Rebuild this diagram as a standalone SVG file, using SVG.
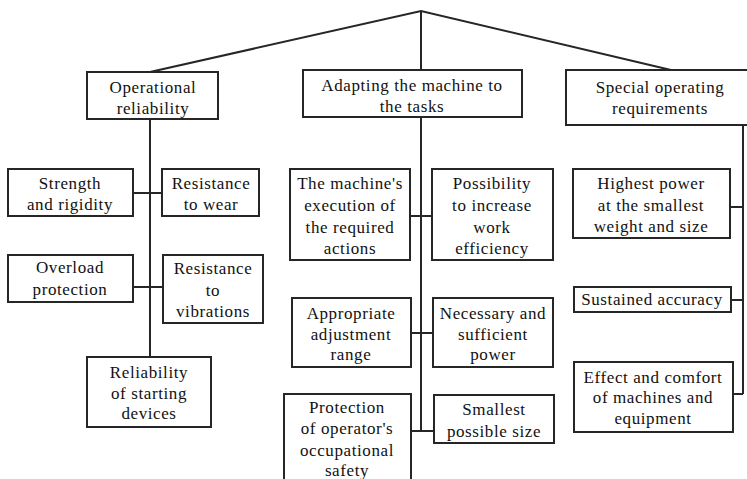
<svg xmlns="http://www.w3.org/2000/svg" width="747" height="479" viewBox="0 0 747 479">
<style>
rect{fill:#fff;stroke:#262626;stroke-width:2}
.c line,.c polyline{stroke:#262626;stroke-width:2;fill:none}
text{font-family:'Liberation Serif','Times New Roman',serif;font-size:17px;fill:#111;text-anchor:middle;dominant-baseline:central;letter-spacing:0.6px}
</style>
<rect x="0" y="0" width="747" height="479" style="fill:#fff;stroke:none"/>
<g class="c">
<polyline points="150,72 421,11 671,70"/>
<line x1="421" y1="11" x2="421" y2="71"/>
<line x1="150" y1="119" x2="150" y2="357"/>
<line x1="133" y1="193" x2="162" y2="193"/>
<line x1="133" y1="287" x2="163" y2="287"/>
<line x1="421" y1="117" x2="421" y2="431"/>
<line x1="410" y1="216" x2="432" y2="216"/>
<line x1="411" y1="333" x2="433" y2="333"/>
<line x1="411" y1="431" x2="434" y2="431"/>
<line x1="743" y1="125" x2="743" y2="394"/>
<line x1="730" y1="207" x2="743" y2="207"/>
<line x1="731" y1="300" x2="743" y2="300"/>
<line x1="733" y1="394" x2="743" y2="394"/>
</g>
<g id="n-operational"><rect x="87" y="72" width="131" height="47"/><text x="153" y="87">Operational</text><text x="153" y="108">reliability</text></g>
<g id="n-adapting"><rect x="303" y="70" width="219" height="47"/><text x="412" y="85">Adapting the machine to</text><text x="412" y="106">the tasks</text></g>
<g id="n-special"><rect x="566" y="70" width="190" height="55"/><text x="660" y="87">Special operating</text><text x="660" y="108">requirements</text></g>
<g id="n-strength"><rect x="8" y="169" width="125" height="47"/><text x="70" y="183">Strength</text><text x="70" y="204">and rigidity</text></g>
<g id="n-wear"><rect x="162" y="169" width="97" height="47"/><text x="211" y="183">Resistance</text><text x="211" y="204">to wear</text></g>
<g id="n-overload"><rect x="8" y="255" width="125" height="47"/><text x="70" y="267">Overload</text><text x="70" y="289">protection</text></g>
<g id="n-vibrations"><rect x="163" y="255" width="100" height="68"/><text x="213" y="268">Resistance</text><text x="213" y="290">to</text><text x="213" y="311">vibrations</text></g>
<g id="n-starting"><rect x="87" y="357" width="124" height="70"/><text x="149" y="372">Reliability</text><text x="149" y="393">of starting</text><text x="149" y="413">devices</text></g>
<g id="n-execution"><rect x="290" y="169" width="120" height="91"/><text x="350" y="183">The machine's</text><text x="350" y="205">execution of</text><text x="350" y="227">the required</text><text x="350" y="248">actions</text></g>
<g id="n-possibility"><rect x="432" y="169" width="121" height="91"/><text x="492" y="183">Possibility</text><text x="492" y="205">to increase</text><text x="492" y="227">work</text><text x="492" y="248">efficiency</text></g>
<g id="n-adjustment"><rect x="292" y="298" width="119" height="69"/><text x="351" y="313">Appropriate</text><text x="351" y="334">adjustment</text><text x="351" y="354">range</text></g>
<g id="n-power"><rect x="433" y="298" width="120" height="69"/><text x="493" y="313">Necessary and</text><text x="493" y="334">sufficient</text><text x="493" y="354">power</text></g>
<g id="n-protection"><rect x="284" y="394" width="127" height="90"/><text x="347" y="407">Protection</text><text x="347" y="428">of operator's</text><text x="347" y="450">occupational</text><text x="347" y="470">safety</text></g>
<g id="n-smallest"><rect x="434" y="395" width="120" height="48"/><text x="494" y="409">Smallest</text><text x="494" y="431">possible size</text></g>
<g id="n-highest"><rect x="573" y="169" width="157" height="69"/><text x="651" y="183">Highest power</text><text x="651" y="205">at the smallest</text><text x="651" y="226">weight and size</text></g>
<g id="n-accuracy"><rect x="574" y="287" width="157" height="25"/><text x="652" y="299">Sustained accuracy</text></g>
<g id="n-effect"><rect x="574" y="362" width="159" height="70"/><text x="653" y="377">Effect and comfort</text><text x="653" y="397">of machines and</text><text x="653" y="418">equipment</text></g>
</svg>
